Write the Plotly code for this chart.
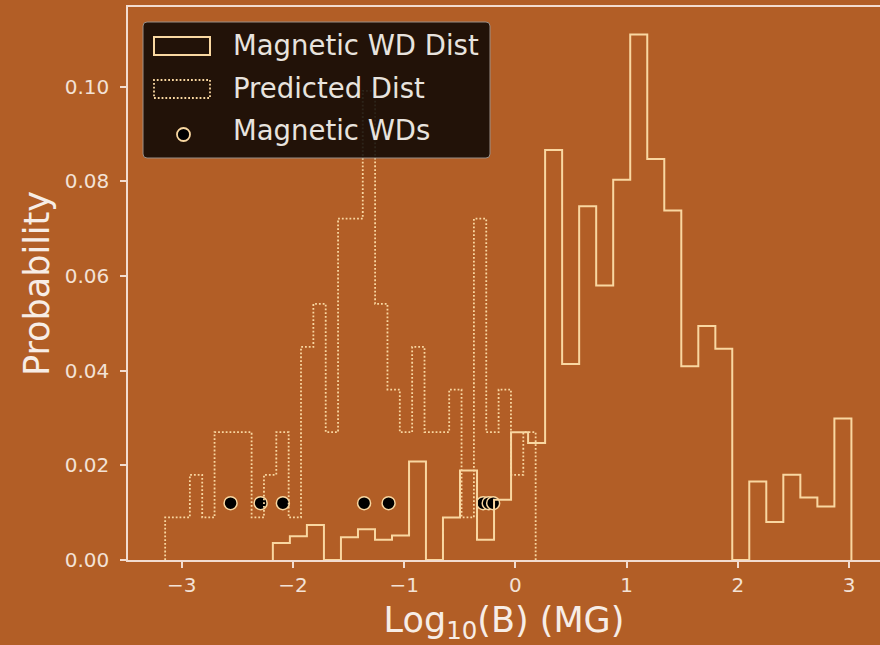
import plotly.graph_objects as go

# ---------------- data ----------------
# Magnetic WD distribution: bin edges and probabilities
wd_edges = [-2.180, -2.027, -1.874, -1.721, -1.568, -1.415, -1.262, -1.109, -0.956,
            -0.804, -0.651, -0.498, -0.345, -0.192, -0.039, 0.114, 0.267, 0.420,
            0.573, 0.726, 0.879, 1.032, 1.185, 1.338, 1.491, 1.644, 1.797, 1.949,
            2.102, 2.255, 2.408, 2.561, 2.714, 2.867, 3.020]
wd_prob = [0.0036, 0.0050, 0.0074, 0.0000, 0.0048, 0.0065, 0.0043, 0.0052, 0.0208,
           0.0000, 0.0090, 0.0189, 0.0043, 0.0127, 0.0270, 0.0247, 0.0866, 0.0414,
           0.0747, 0.0580, 0.0803, 0.1110, 0.0847, 0.0738, 0.0409, 0.0494, 0.0446,
           0.0000, 0.0166, 0.0080, 0.0180, 0.0132, 0.0113, 0.0299]

# Predicted distribution: bin edges and probabilities
pred_edges = [-3.148, -3.037, -2.926, -2.815, -2.704, -2.593, -2.482, -2.371, -2.260,
              -2.149, -2.038, -1.927, -1.816, -1.705, -1.594, -1.483, -1.372, -1.261,
              -1.150, -1.039, -0.928, -0.817, -0.706, -0.595, -0.484, -0.373, -0.262,
              -0.151, -0.040, 0.071, 0.182]
pred_prob = [0.0090, 0.0090, 0.0180, 0.0090, 0.0270, 0.0270, 0.0270, 0.0090, 0.0180,
             0.0270, 0.0090, 0.0450, 0.0541, 0.0270, 0.0721, 0.0721, 0.0991, 0.0541,
             0.0360, 0.0270, 0.0450, 0.0270, 0.0270, 0.0360, 0.0090, 0.0721, 0.0270,
             0.0360, 0.0180, 0.0270]

# Individual magnetic white dwarfs
mwd_logB = [-2.56, -2.29, -2.09, -1.36, -1.14, -0.29, -0.24, -0.20]
mwd_y = [0.012, 0.012, 0.012, 0.012, 0.012, 0.012, 0.012, 0.012]

x_ticks = [-3, -2, -1, 0, 1, 2, 3]
x_ticktext = ["\u22123", "\u22122", "\u22121", "0", "1", "2", "3"]
y_ticks = [0.00, 0.02, 0.04, 0.06, 0.08, 0.10]
y_ticktext = ["0.00", "0.02", "0.04", "0.06", "0.08", "0.10"]

legend_labels = ["Magnetic WD Dist", "Predicted Dist", "Magnetic WDs"]

# ---------------- style ----------------
BG = "#B25E26"
LINE = "#F9D7A1"
SPINE = "#F2DCCF"
TICKTXT = "#F3E2D6"
FONT = "DejaVu Sans"

W, H = 880, 645
ML, MR, MT, MB = 128, 0, 7, 85
PW, PH = W - ML - MR, H - MT - MB


def step_xy(edges, vals):
    xs = [edges[0]] + list(edges[:-1]) + [edges[-1]]
    ys = [0.0] + list(vals) + [0.0]
    return xs, ys


fig = go.Figure()

fig.add_trace(go.Scatter(
    x=mwd_logB, y=mwd_y, mode="markers", name=legend_labels[2],
    marker=dict(size=13, color="black", line=dict(color=LINE, width=1.5)),
    showlegend=False))

sx, sy = step_xy(wd_edges, wd_prob)
fig.add_trace(go.Scatter(
    x=sx, y=sy, mode="lines", name=legend_labels[0],
    line=dict(shape="hv", color=LINE, width=2), showlegend=False))

px_, py_ = step_xy(pred_edges, pred_prob)
fig.add_trace(go.Scatter(
    x=px_, y=py_, mode="lines", name=legend_labels[1],
    line=dict(shape="hv", color=LINE, width=1.8, dash="1.8px,2px"),
    showlegend=False))


# ---------------- custom legend (matplotlib-like) ----------------
def fx(p):
    return (p - ML) / PW


def fy(p):
    return (MT + PH - p) / PH


def rounded_rect(x0, y0, x1, y1, r):
    rx, ry = r / PW, r / PH
    X0, X1, Y0, Y1 = fx(x0), fx(x1), fy(y1), fy(y0)
    return (f"M{X0+rx},{Y0} L{X1-rx},{Y0} Q{X1},{Y0} {X1},{Y0+ry} "
            f"L{X1},{Y1-ry} Q{X1},{Y1} {X1-rx},{Y1} L{X0+rx},{Y1} "
            f"Q{X0},{Y1} {X0},{Y1-ry} L{X0},{Y0+ry} Q{X0},{Y0} {X0+rx},{Y0} Z")


shapes = [
    dict(type="path", xref="paper", yref="paper",
         path=rounded_rect(143, 22, 490, 158, 4),
         fillcolor="rgba(10,6,3,0.86)", line=dict(color="#9A8E86", width=1),
         layer="above"),
    dict(type="rect", xref="paper", yref="paper",
         x0=fx(154), x1=fx(210), y0=fy(55), y1=fy(37),
         line=dict(color=LINE, width=2), fillcolor="rgba(0,0,0,0)", layer="above"),
    dict(type="rect", xref="paper", yref="paper",
         x0=fx(154), x1=fx(210), y0=fy(98), y1=fy(80),
         line=dict(color=LINE, width=1.8, dash="1.8px,2px"),
         fillcolor="rgba(0,0,0,0)", layer="above"),
    dict(type="circle", xref="paper", yref="paper",
         x0=fx(177), x1=fx(190), y0=fy(141), y1=fy(128),
         line=dict(color=LINE, width=1.8), fillcolor="black", layer="above"),
]

annotations = []
for lab, yc in zip(legend_labels, [45, 87.5, 130]):
    annotations.append(dict(
        text=lab, xref="paper", yref="paper", x=fx(231), y=fy(yc),
        xanchor="left", yanchor="middle", showarrow=False,
        font=dict(family=FONT, size=27.5, color="#E8E3DE")))

fig.update_layout(
    width=W, height=H,
    margin=dict(l=ML, r=MR, t=MT, b=MB),
    paper_bgcolor=BG, plot_bgcolor=BG,
    font=dict(family=FONT, color=TICKTXT),
    showlegend=False,
    shapes=shapes,
    annotations=annotations,
    xaxis=dict(
        range=[-3.482, 3.277], showgrid=False, zeroline=False,
        showline=True, linecolor=SPINE, linewidth=1.5, mirror=True,
        ticks="outside", ticklen=6, tickwidth=1.5, tickcolor=SPINE,
        tickvals=x_ticks, ticktext=x_ticktext,
        tickfont=dict(family=FONT, size=20, color=TICKTXT),
        title=dict(text="Log<sub>10</sub>(B) (MG)", standoff=21,
                   font=dict(family=FONT, size=35, color="#F7EDE6")),
    ),
    yaxis=dict(
        range=[0, 0.1168], showgrid=False, zeroline=False,
        showline=True, linecolor=SPINE, linewidth=1.5,
        ticks="outside", ticklen=6, tickwidth=1.5, tickcolor=SPINE,
        tickvals=y_ticks, ticktext=y_ticktext, ticklabelstandoff=7,
        tickfont=dict(family=FONT, size=20, color=TICKTXT),
        title=dict(text="Probability", standoff=4,
                   font=dict(family=FONT, size=35, color="#F7EDE6")),
    ),
)

fig.write_html(
    "out.html",
    config={"displayModeBar": False},
    post_script="document.body.style.margin='0px';document.body.style.overflow='hidden';",
)
